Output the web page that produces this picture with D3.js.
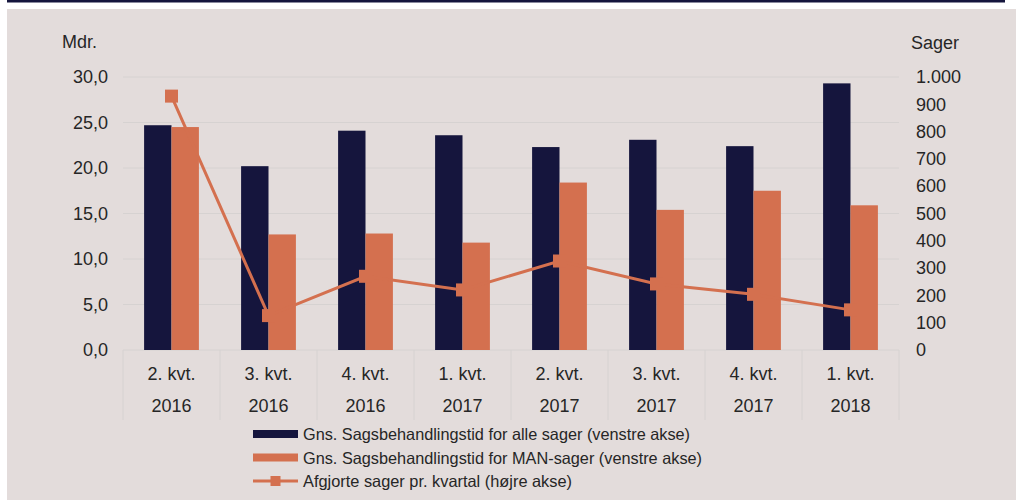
<!DOCTYPE html>
<html>
<head>
<meta charset="utf-8">
<script src="https://cdn.jsdelivr.net/npm/d3@7"></script>
<style>
  html, body { margin: 0; padding: 0; background: #fff; }
  svg { display: block; }
  text { font-family: "Liberation Sans", Arial, sans-serif; fill: #262626; }
</style>
</head>
<body>
<svg id="chart" width="1016" height="502"></svg>
<script>
// data
const quarters = ['2. kvt.', '3. kvt.', '4. kvt.', '1. kvt.', '2. kvt.', '3. kvt.', '4. kvt.', '1. kvt.'];
const years    = ['2016', '2016', '2016', '2017', '2017', '2017', '2017', '2018'];
const alleSager = [24.7, 20.2, 24.1, 23.6, 22.3, 23.1, 22.4, 29.3];
const manSager  = [24.5, 12.7, 12.8, 11.8, 18.4, 15.4, 17.5, 15.9];
const afgjorte  = [930, 126, 270, 220, 326, 242, 204, 147];
const leftTicks  = [0, 5, 10, 15, 20, 25, 30];
const rightTicks = [0, 100, 200, 300, 400, 500, 600, 700, 800, 900, 1000];
const legendLabels = [
  'Gns. Sagsbehandlingstid for alle sager (venstre akse)',
  'Gns. Sagsbehandlingstid for MAN-sager (venstre akse)',
  'Afgjorte sager pr. kvartal (højre akse)'
];
const legendWidths = [387, 399, 269];

const NAVY = '#15153d', ORANGE = '#d4704f', BG = '#e3dcdb', GRID = '#d6d2d1';
const FS = 18;

const svg = d3.select('#chart');

// baggrund + top-streg
svg.append('rect').attr('x', 7).attr('y', 0).attr('width', 998).attr('height', 2.5).attr('fill', NAVY);
svg.append('rect').attr('x', 7).attr('y', 9).attr('width', 1009).attr('height', 491).attr('fill', BG);

const plot = { left: 123, right: 899, top: 77, bottom: 350 };
const idx = d3.range(quarters.length);

const x = d3.scaleBand().domain(idx).range([plot.left, plot.right]).padding(0);
const xs = d3.scaleBand().domain(['alle', 'man']).range([0, x.bandwidth()])
  .paddingInner(0).paddingOuter(0.77);
const yL = d3.scaleLinear().domain([0, 30]).range([plot.bottom, plot.top]);
const yR = d3.scaleLinear().domain([0, 1000]).range([plot.bottom, plot.top]);

const da = d3.formatLocale({ decimal: ',', thousands: '.', grouping: [3], currency: ['', ''] });

// gitterlinjer
svg.append('g').selectAll('line').data(leftTicks).join('line')
  .attr('x1', plot.left).attr('x2', plot.right)
  .attr('y1', d => yL(d)).attr('y2', d => yL(d))
  .attr('stroke', GRID).attr('stroke-width', 1);

// kategori-skillelinjer
svg.append('g').selectAll('line').data(d3.range(quarters.length + 1)).join('line')
  .attr('x1', d => plot.left + d * x.step()).attr('x2', d => plot.left + d * x.step())
  .attr('y1', plot.bottom).attr('y2', 420)
  .attr('stroke', GRID).attr('stroke-width', 1);

// søjler
const grp = svg.append('g').selectAll('g').data(idx).join('g')
  .attr('transform', i => `translate(${x(i)},0)`);
grp.append('rect')
  .attr('x', xs('alle')).attr('width', xs.bandwidth())
  .attr('y', i => yL(alleSager[i])).attr('height', i => yL(0) - yL(alleSager[i]))
  .attr('fill', NAVY);
grp.append('rect')
  .attr('x', xs('man')).attr('width', xs.bandwidth())
  .attr('y', i => yL(manSager[i])).attr('height', i => yL(0) - yL(manSager[i]))
  .attr('fill', ORANGE);

// linje
const line = d3.line().x(i => x(i) + x.bandwidth() / 2).y(i => yR(afgjorte[i]));
svg.append('path').datum(idx).attr('d', line)
  .attr('fill', 'none').attr('stroke', ORANGE).attr('stroke-width', 3);
svg.append('g').selectAll('rect').data(idx).join('rect')
  .attr('x', i => x(i) + x.bandwidth() / 2 - 6.5)
  .attr('y', i => yR(afgjorte[i]) - 6.5)
  .attr('width', 13).attr('height', 13)
  .attr('fill', ORANGE);

// akser
const axL = svg.append('g').attr('transform', 'translate(108,0)')
  .call(d3.axisLeft(yL).tickValues(leftTicks).tickSize(0).tickPadding(0)
    .tickFormat(d => da.format('.1f')(d)));
const axR = svg.append('g').attr('transform', 'translate(916,0)')
  .call(d3.axisRight(yR).tickValues(rightTicks).tickSize(0).tickPadding(0)
    .tickFormat(d => da.format(',')(d)));
[axL, axR].forEach(a => {
  a.select('.domain').remove();
  a.selectAll('text').attr('font-size', FS).attr('fill', '#262626')
    .attr('font-family', '"Liberation Sans", Arial, sans-serif');
});

svg.append('text').attr('x', 62).attr('y', 48).attr('font-size', FS).text('Mdr.');
svg.append('text').attr('x', 911).attr('y', 49).attr('font-size', FS).text('Sager');

// kategori-labels
const cat = svg.append('g').selectAll('g').data(idx).join('g')
  .attr('transform', i => `translate(${x(i) + x.bandwidth() / 2},0)`);
cat.append('text').attr('y', 380).attr('text-anchor', 'middle').attr('font-size', FS)
  .text(i => quarters[i]);
cat.append('text').attr('y', 412).attr('text-anchor', 'middle').attr('font-size', FS)
  .text(i => years[i]);

// legende
const leg = svg.append('g').selectAll('g').data(legendLabels).join('g')
  .attr('transform', (d, i) => `translate(253,${434 + i * 23.5})`);
leg.filter((d, i) => i < 2).append('rect')
  .attr('x', 0).attr('y', -4).attr('width', 45).attr('height', 8)
  .attr('fill', (d, i) => i === 0 ? NAVY : ORANGE);
const legLine = leg.filter((d, i) => i === 2);
legLine.append('line').attr('x1', 0).attr('x2', 45).attr('y1', 0).attr('y2', 0)
  .attr('stroke', ORANGE).attr('stroke-width', 3);
legLine.append('rect').attr('x', 17.5).attr('y', -5).attr('width', 10).attr('height', 10)
  .attr('fill', ORANGE);
leg.append('text').attr('x', 50).attr('y', 6).attr('font-size', 16.5)
  .attr('textLength', (d, i) => legendWidths[i]).attr('lengthAdjust', 'spacingAndGlyphs')
  .text(d => d);
</script>
</body>
</html>
